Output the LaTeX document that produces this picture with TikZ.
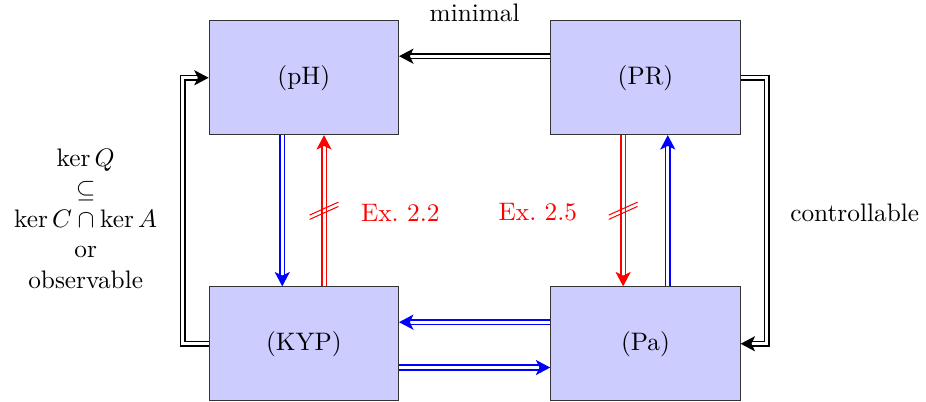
\documentclass[tikz,border=0pt]{standalone}
\usepackage{amsmath,amssymb}
\usetikzlibrary{arrows.meta,positioning,calc}

\begin{document}
\begin{tikzpicture}[
  node distance=2.1cm and 2.1cm,
  cond/.style={draw=black!80, fill=blue!20, minimum width=2.63cm, minimum height=1.58cm, inner sep=0pt},
  impl/.style={-{Stealth[length=2mm, width=2.1mm, inset=0.5mm]}, semithick, double, double distance=1.2pt},
  note/.style={align=center, inner sep=1pt},
  strike/.style={red, thin}
]
  \useasboundingbox (0,0) rectangle (12.86,-5.57);

  % Conditions
  \node[cond] (pH) at (4.22,-1.08) {(pH)};
  \node[cond] (PR) [right=of pH] {(PR)};
  \node[cond] (KYP) [below=of pH] {(KYP)};
  \node[cond] (Pa) [below=of PR] {(Pa)};

  % Top and sides
  \draw[impl] ([yshift=0.3cm]PR.west) -- node[above=0.35cm] (lmin) {minimal} ([yshift=0.3cm]pH.east);
  \draw[impl] (KYP.west) -- ++(-0.36,0) |- (pH.west);
  \draw[impl] (PR.east) -- ++(0.36,0) |- (Pa.east);

  % Left column
  \draw[impl, blue] ([xshift=-0.3cm]pH.south) -- ([xshift=-0.3cm]KYP.north);
  \draw[impl, red] ([xshift=0.28cm]KYP.north) -- coordinate[midway] (m1) ([xshift=0.28cm]pH.south);

  % Right column
  \draw[impl, red] ([xshift=-0.31cm]PR.south) -- coordinate[midway] (m2) ([xshift=-0.31cm]Pa.north);
  \draw[impl, blue] ([xshift=0.31cm]Pa.north) -- ([xshift=0.31cm]PR.south);

  % Bottom
  \draw[impl, blue] ([yshift=0.3cm]Pa.west) -- ([yshift=0.3cm]KYP.east);
  \draw[impl, blue] ([yshift=-0.33cm]KYP.east) -- ([yshift=-0.33cm]Pa.west);

  % Strike marks
  \draw[strike] ($(m1)+(-0.2,-0.12)$) -- ($(m1)+(0.2,0.06)$);
  \draw[strike] ($(m1)+(-0.2,-0.06)$) -- ($(m1)+(0.2,0.12)$);
  \draw[strike] ($(m2)+(-0.2,-0.12)$) -- ($(m2)+(0.2,0.06)$);
  \draw[strike] ($(m2)+(-0.2,-0.06)$) -- ($(m2)+(0.2,0.12)$);

  % Labels
  \node[red] (ex22) at (5.56,-2.95) {Ex.~2.2};
  \node[red] (ex25) at (7.47,-2.95) {Ex.~2.5};
  \node[note] (lobs) at (1.19,-3.04) {$\ker Q$\\$\subseteq$\\$\ker C\cap\ker A$\\or\\observable};
  \node[note] (lctr) at (11.87,-2.96) {controllable};
\end{tikzpicture}
\end{document}
